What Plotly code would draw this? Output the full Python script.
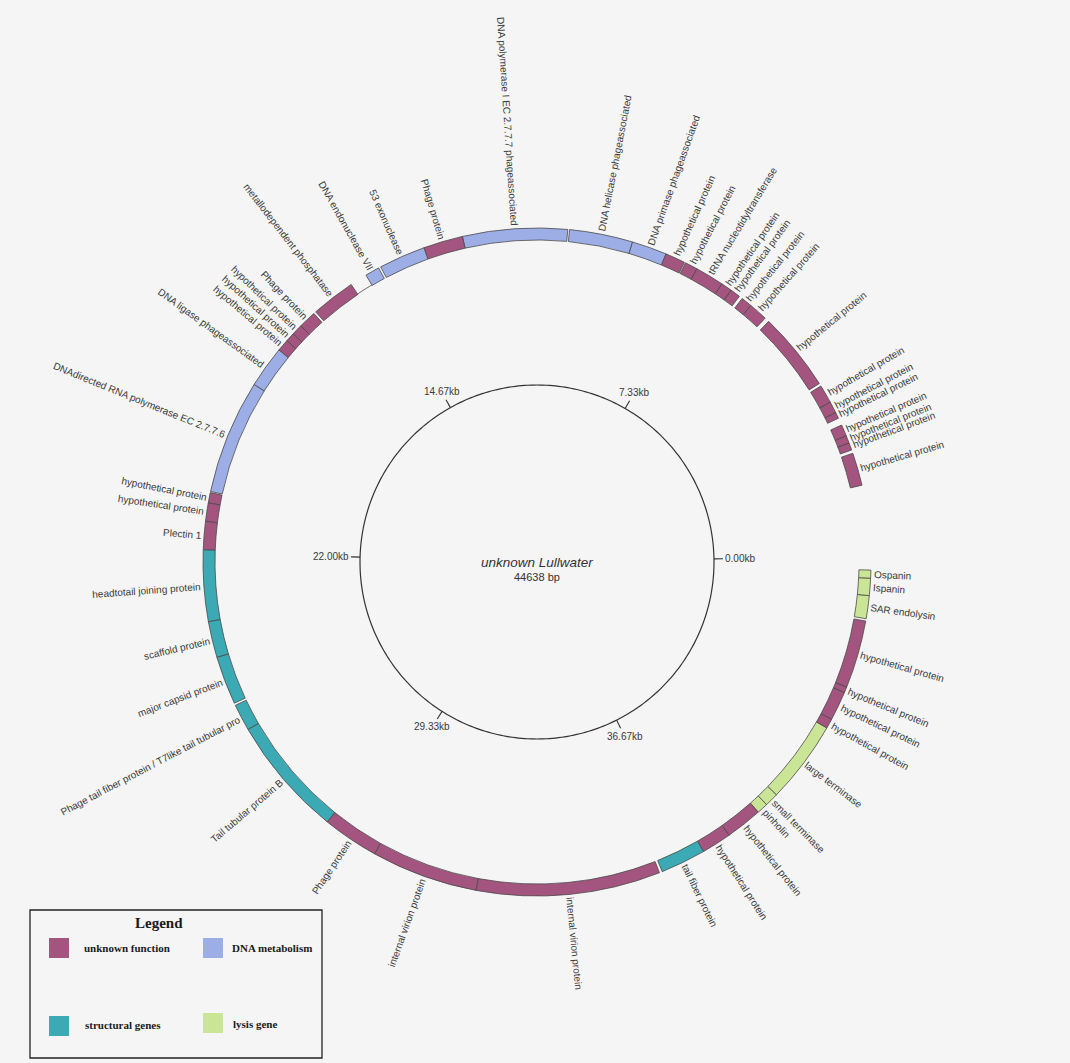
import math
import plotly.graph_objects as go

# ---------------- data ----------------
GENOME_NAME = "unknown Lullwater"
GENOME_LEN = 44638

categories = ["unknown function", "DNA metabolism", "structural genes", "lysis gene"]
cat_colors = ["#A3557F", "#9DAEE7", "#3BAAB4", "#CBE596"]

gene_start = [1525, 2306, 2468, 2629, 3038, 3174, 3422, 3881, 5692, 6101,
              6411, 6634, 6870, 7490, 7787, 8221, 8978, 10379, 12636, 13491,
              14545, 15227, 16232, 16616, 16852, 17050, 17310, 18216, 20708, 20931,
              21328, 21936, 23473, 24254, 25346, 25928, 28532, 29748, 32054, 36084,
              37064, 37708, 38502, 38738, 39035, 40821, 41032, 41664, 41788, 43301,
              43797, 44169]
gene_end = [2232, 2468, 2629, 2877, 3174, 3422, 3819, 5592, 6101, 6336,
            6634, 6870, 7490, 7762, 8221, 8978, 10342, 12636, 13491, 14496,
            14855, 16182, 16616, 16852, 17050, 17310, 18216, 20683, 20931, 21328,
            21936, 23473, 24254, 25296, 25928, 28532, 29748, 32054, 36022, 37064,
            37708, 38502, 38738, 39035, 40821, 41032, 41664, 41788, 43251, 43797,
            44169, 44342]
gene_cat = [0, 0, 0, 0, 0, 0, 0, 0, 0, 0,
            0, 0, 0, 0, 0, 1, 1, 1, 0, 1,
            1, 0, 0, 0, 0, 0, 1, 1, 0, 0,
            0, 2, 2, 2, 2, 2, 0, 0, 0, 2,
            0, 0, 3, 3, 3, 0, 0, 0, 0, 3,
            3, 3]
HP = "hypothetical protein"
gene_label = [HP, HP, HP, HP, HP, HP, HP, HP, HP, HP,
              HP, HP, "tRNA nucleotidyltransferase", HP, HP,
              "DNA primase phageassociated", "DNA helicase phageassociated",
              "DNA polymerase I EC 2.7.7.7 phageassociated", "Phage protein",
              "53 exonuclease", "DNA endonuclease VII", "metallodependent phosphatase",
              "Phage protein", HP, HP, HP, "DNA ligase phageassociated",
              "DNAdirected RNA polymerase EC 2.7.7.6", HP, HP, "Plectin 1",
              "headtotail joining protein", "scaffold protein", "major capsid protein",
              "Phage tail fiber protein / T7like tail tubular pro", "Tail tubular protein B",
              "Phage protein", "internal virion protein", "internal virion protein",
              "tail fiber protein", HP, HP, "pinholin", "small terminase", "large terminase",
              HP, HP, HP, HP, "SAR endolysin", "Ispanin", "Ospanin"]

tick_bp = [0, 7333, 14667, 22000, 29333, 36667]
tick_labels = ["0.00kb", "7.33kb", "14.67kb", "22.00kb", "29.33kb", "36.67kb"]

# ---------------- geometry ----------------
W, H = 1070, 1063
CX, CY = 537, 562          # centre of the map in pixels
R_DOMAIN = 400              # radius of polar domain in px (= radial axis units)
ROT = 1.0                   # start angle of the map
RING_IN, RING_W = 322, 12
INNER_R = 177
FONT = "Liberation Sans, Arial, sans-serif"
SERIF = "Liberation Serif, Times New Roman, serif"
TXT = "#3a3a3a"


def deg(bp):
    return bp / GENOME_LEN * 360.0


def px(x):
    return x / W


def py(y):
    return 1 - y / H


fig = go.Figure()

# gene boxes
theta_mid = [deg((s + e) / 2) for s, e in zip(gene_start, gene_end)]
theta_w = [deg(e - s) for s, e in zip(gene_start, gene_end)]
fig.add_trace(go.Barpolar(
    theta=theta_mid, width=theta_w,
    r=[RING_W] * len(gene_start), base=[RING_IN] * len(gene_start),
    marker=dict(color=[cat_colors[c] for c in gene_cat],
                line=dict(color="#4a4a4a", width=0.8)),
    hoverinfo="text", text=gene_label, showlegend=False,
))

# thin connector between DNA endonuclease VII and metallodependent phosphatase
i_endo = gene_label.index("DNA endonuclease VII")
a0, a1 = deg(gene_end[i_endo]), deg(gene_start[i_endo + 1])
fig.add_trace(go.Scatterpolar(
    r=[RING_IN + 0.5] * 20, theta=[a0 + (a1 - a0) * k / 19 for k in range(20)],
    mode="lines", line=dict(color="#555", width=1), hoverinfo="skip", showlegend=False))

# inner circle
fig.add_trace(go.Scatterpolar(
    r=[INNER_R] * 361, theta=list(range(361)), mode="lines",
    line=dict(color="#333", width=1.2), hoverinfo="skip", showlegend=False))

# ticks
tr, tt = [], []
for b in tick_bp:
    tr += [INNER_R, INNER_R + 9, None]
    tt += [deg(b), deg(b), None]
fig.add_trace(go.Scatterpolar(r=tr, theta=tt, mode="lines",
                              line=dict(color="#333", width=1.1),
                              hoverinfo="skip", showlegend=False))

fig.update_layout(
    polar=dict(
        domain=dict(x=[px(CX - R_DOMAIN), px(CX + R_DOMAIN)],
                    y=[py(CY + R_DOMAIN), py(CY - R_DOMAIN)]),
        bgcolor="rgba(0,0,0,0)",
        bargap=0,
        radialaxis=dict(visible=False, range=[0, R_DOMAIN]),
        angularaxis=dict(visible=False, rotation=ROT, direction="counterclockwise",
                         showgrid=False, showline=False, showticklabels=False, ticks=""),
    ),
    width=W, height=H, autosize=False,
    margin=dict(l=0, r=0, t=0, b=0),
    paper_bgcolor="#F4F5F4", plot_bgcolor="#F4F5F4",
    showlegend=False,
)

# tick labels
for b, lab in zip(tick_bp, tick_labels):
    th = math.radians(deg(b) + ROT)
    if lab == "0.00kb":
        r, xa = INNER_R + 9, "left"
    elif abs(deg(b) + ROT - 180) < 10:
        r, xa = INNER_R + 9, "right"
    else:
        r, xa = INNER_R + 18, "center"
    fig.add_annotation(x=px(CX + r * math.cos(th)), y=py(CY - r * math.sin(th)),
                       xref="paper", yref="paper", text=lab, showarrow=False,
                       xanchor=xa, yanchor="middle",
                       font=dict(family=FONT, size=10, color=TXT))

# gene labels (radial)
R_LAB = RING_IN + RING_W + 1.5
for tmid, lab in zip(theta_mid, gene_label):
    th = (tmid + ROT) % 360
    rad = math.radians(th)
    x = CX + R_LAB * math.cos(rad)
    y = CY - R_LAB * math.sin(rad)
    invis = '<span style="color:rgba(0,0,0,0)">' + lab + '</span>'
    if 90 < th < 270:
        t = lab + " " + invis
        ang = 180 - th
    else:
        t = invis + " " + lab
        ang = -th if th <= 90 else 360 - th
    fig.add_annotation(x=px(x), y=py(y), xref="paper", yref="paper", text=t,
                       textangle=ang, showarrow=False, xanchor="center", yanchor="middle",
                       font=dict(family=FONT, size=10, color=TXT))

# centre title
fig.add_annotation(x=px(CX), y=py(CY + 0.7), xref="paper", yref="paper",
                   text="<i>" + GENOME_NAME + "</i>", showarrow=False,
                   xanchor="center", yanchor="middle",
                   font=dict(family=FONT, size=13.5, color="#333"))
fig.add_annotation(x=px(CX), y=py(CY + 15), xref="paper", yref="paper",
                   text=f"{GENOME_LEN} bp", showarrow=False,
                   xanchor="center", yanchor="middle",
                   font=dict(family=FONT, size=11, color="#333"))

# custom legend box
fig.add_shape(type="rect", xref="paper", yref="paper",
              x0=px(30), x1=px(322), y0=py(1058), y1=py(910),
              line=dict(color="#222", width=1.3), fillcolor="rgba(0,0,0,0)")
fig.add_annotation(x=px(159), y=py(923), xref="paper", yref="paper", text="<b>Legend</b>",
                   showarrow=False, xanchor="center", yanchor="middle",
                   font=dict(family=SERIF, size=15, color="#1a1a1a"))
leg_pos = [(49, 938, 82, 948), (203, 938, 230, 948), (49, 1016, 83, 1025), (203, 1013, 231, 1024)]
for (sx, sy, tx, ty), name, col in zip(leg_pos, categories, cat_colors):
    fig.add_shape(type="rect", xref="paper", yref="paper",
                  x0=px(sx), x1=px(sx + 20), y0=py(sy + 20), y1=py(sy),
                  line=dict(width=0), fillcolor=col)
    fig.add_annotation(x=px(tx), y=py(ty), xref="paper", yref="paper", text="<b>" + name + "</b>",
                       showarrow=False, xanchor="left", yanchor="middle",
                       font=dict(family=SERIF, size=11, color="#1a1a1a"))

fig.write_html("out.html")
